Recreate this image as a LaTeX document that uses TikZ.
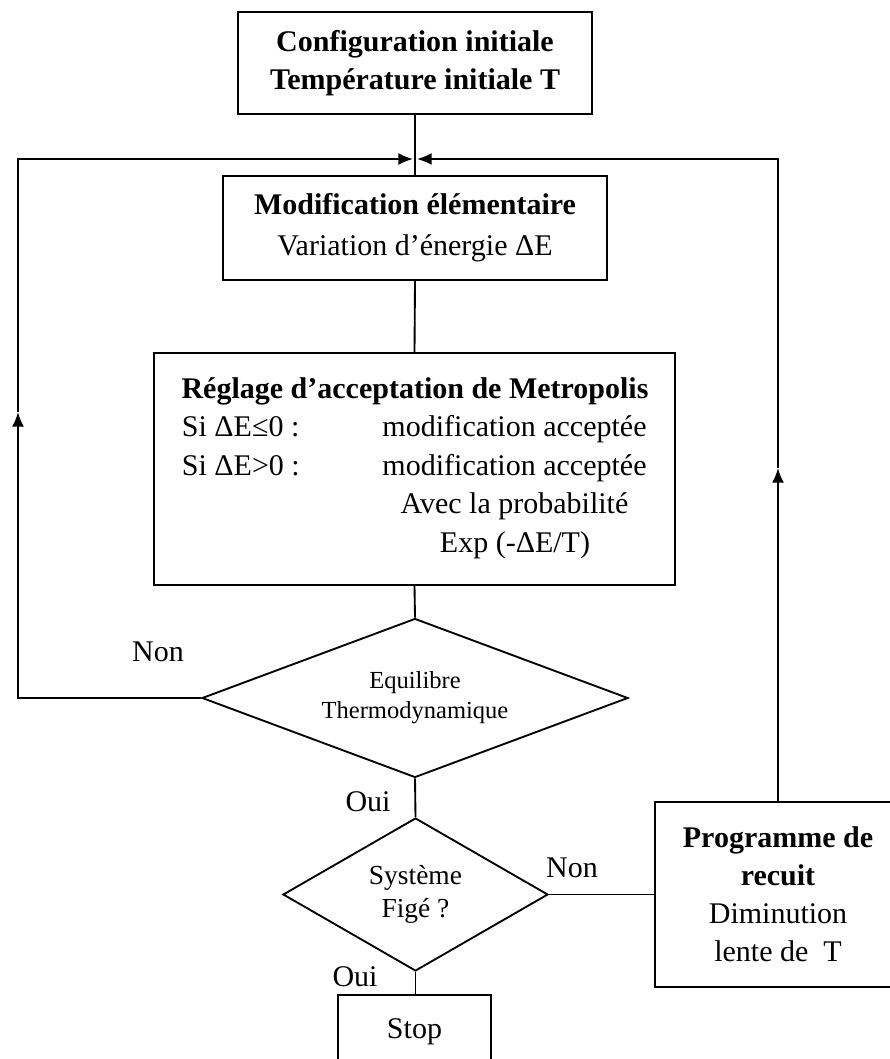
\documentclass[tikz,border=0pt]{standalone}
\usepackage{fontspec}
\setmainfont{Liberation Serif}
\usetikzlibrary{arrows.meta,shapes.geometric}
\begin{document}
\begin{tikzpicture}[x=0.75pt,y=-0.75pt,
  line width=1.4pt,
  every node/.style={inner sep=0pt},
  mainfont/.style={font=\fontsize{22.5}{28.5}\selectfont},
  box/.style={draw, rectangle, mainfont, align=center},
  decision/.style={draw, diamond, align=center},
  tip/.style={-{Latex[length=11pt,width=9pt]}},
  lbl/.style={mainfont}]
\useasboundingbox (0,0) rectangle (889,1059);

% process boxes
\node[box, minimum width=265.5pt, minimum height=76.5pt] (init) at (415,63)
  {\textbf{Configuration initiale}\\\textbf{Température initiale T}};
\node[box, minimum width=288pt, minimum height=78pt] (modif) at (415,228)
  {\textbf{Modification élémentaire}\\[2pt]Variation d’énergie ΔE};
\node[box, minimum width=390.75pt, minimum height=174pt] (metro) at (414.5,469) {};

% acceptance rule text
\node[lbl, anchor=base] (mtitle) at (415,398) {\textbf{Réglage d’acceptation de Metropolis}};
\node[lbl, anchor=base west] (c1) at (181,436.5) {Si ΔE≤0 :};
\node[lbl, anchor=base] (a1) at (514.5,436.5) {modification acceptée};
\node[lbl, anchor=base west] (c2) at (181,475) {Si ΔE>0 :};
\node[lbl, anchor=base] (a2) at (514.5,475) {modification acceptée};
\node[lbl, anchor=base] (a3) at (514.5,513.5) {Avec la probabilité};
\node[lbl, anchor=base] (a4) at (515,552) {Exp (-ΔE/T)};

% decisions
\node[decision, aspect=2.68, minimum width=319.5pt, minimum height=119.25pt,
  font=\fontsize{18.4}{22.5}\selectfont] (equil) at (415,698)
  {Equilibre\\Thermodynamique};
\node[decision, aspect=1.73, minimum width=198.75pt, minimum height=114.75pt,
  font=\fontsize{20.6}{24.75}\selectfont] (fige) at (415.5,894.5)
  {Système\\Figé ?};

% annealing schedule and end
\node[box, minimum width=184.5pt, minimum height=138.75pt] (recuit) at (778,894.5)
  {\textbf{Programme de}\\\textbf{recuit}\\Diminution\\lente de\ \ T};
\node[box, minimum width=114.75pt, minimum height=55.5pt] (stop) at (414.5,1032) {Stop};

% branch labels
\node[lbl] (non1) at (158,652) {Non};
\node[lbl] (oui1) at (368,802) {Oui};
\node[lbl] (non2) at (572,868) {Non};
\node[lbl] (oui2) at (355,977) {Oui};

% main flow
\coordinate (J) at (415,159);
\draw (init.south) -- (modif.north);
\draw (modif.south) -- (metro.north);
\draw (metro.south) -- (equil.north);
\draw (equil.south) -- (fige.north);
\draw (fige.south) -- (fige.south |- stop.north);
\draw (fige.east) -- (recuit.west);

% return loop from the equilibrium test
\coordinate (LB) at (18,698);
\coordinate (LM) at (18,412);
\coordinate (LT) at (18,159);
\draw[tip] (equil.west) -- (LB) -- (LM);
\draw[tip, shorten >=1.5pt] (LM) -- (LT) -- (J);

% return loop from the cooling schedule
\coordinate (RM) at (778,468);
\coordinate (RT) at (778,159);
\draw[tip] (recuit.north) -- (RM);
\draw[tip, shorten >=1.5pt] (RM) -- (RT) -- (J);
\end{tikzpicture}
\end{document}
